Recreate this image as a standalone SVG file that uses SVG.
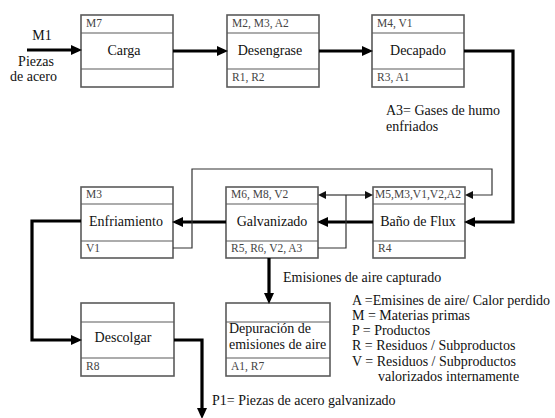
<svg xmlns="http://www.w3.org/2000/svg" width="555" height="418" viewBox="0 0 555 418">
<defs>
<marker id="ah" markerUnits="userSpaceOnUse" markerWidth="11" markerHeight="10" refX="7" refY="5" orient="auto">
<path d="M0,0 L11,5 L0,10 z" fill="#000"/>
</marker>
<marker id="at" markerUnits="userSpaceOnUse" markerWidth="8" markerHeight="8" refX="6" refY="4" orient="auto">
<path d="M0,0 L8,4 L0,8 z" fill="#111"/>
</marker>
</defs>
<style>
.box{fill:#fff;stroke:#5a5a5a;stroke-width:1.6}
.div{stroke:#5a5a5a;stroke-width:1.2}
.lbl{font-family:"Liberation Serif",serif;font-size:14px;fill:#111;text-anchor:middle}
.sm{font-family:"Liberation Serif",serif;font-size:11.5px;fill:#444}
.txt{font-family:"Liberation Serif",serif;font-size:14px;fill:#111}
.thick{fill:none;stroke:#000;stroke-width:3.2}
.thin{fill:none;stroke:#333;stroke-width:1.2}
</style>

<g id="carga">
<rect class="box" x="81" y="15" width="92" height="72"/>
<line class="div" x1="81" y1="33" x2="173" y2="33"/>
<line class="div" x1="81" y1="69" x2="173" y2="69"/>
<text class="sm" x="86" y="27">M7</text>
<text class="lbl" x="124" y="55">Carga</text>
</g>

<g id="desengrase">
<rect class="box" x="227" y="15" width="92" height="72"/>
<line class="div" x1="227" y1="33" x2="319" y2="33"/>
<line class="div" x1="227" y1="69" x2="319" y2="69"/>
<text class="sm" x="232" y="27">M2, M3, A2</text>
<text class="lbl" x="270" y="55">Desengrase</text>
<text class="sm" x="232" y="81">R1, R2</text>
</g>

<g id="decapado">
<rect class="box" x="372" y="15" width="92" height="72"/>
<line class="div" x1="372" y1="33" x2="464" y2="33"/>
<line class="div" x1="372" y1="69" x2="464" y2="69"/>
<text class="sm" x="377" y="27">M4, V1</text>
<text class="lbl" x="418" y="55">Decapado</text>
<text class="sm" x="377" y="81">R3, A1</text>
</g>

<g id="enfriamiento">
<rect class="box" x="81" y="187" width="92" height="71"/>
<line class="div" x1="81" y1="204" x2="173" y2="204"/>
<line class="div" x1="81" y1="241" x2="173" y2="241"/>
<text class="sm" x="86" y="198">M3</text>
<text class="lbl" x="126" y="226">Enfriamiento</text>
<text class="sm" x="86" y="252">V1</text>
</g>

<g id="galvanizado">
<rect class="box" x="226" y="187" width="92" height="71"/>
<line class="div" x1="226" y1="204" x2="318" y2="204"/>
<line class="div" x1="226" y1="241" x2="318" y2="241"/>
<text class="sm" x="231" y="198">M6, M8, V2</text>
<text class="lbl" x="272" y="226">Galvanizado</text>
<text class="sm" x="231" y="252">R5, R6, V2, A3</text>
</g>

<g id="bano">
<rect class="box" x="373" y="187" width="92" height="71"/>
<line class="div" x1="373" y1="204" x2="465" y2="204"/>
<line class="div" x1="373" y1="241" x2="465" y2="241"/>
<text class="sm" x="375" y="198" textLength="86" lengthAdjust="spacingAndGlyphs">M5,M3,V1,V2,A2</text>
<text class="lbl" x="418" y="226">Baño de Flux</text>
<text class="sm" x="378" y="252">R4</text>
</g>

<g id="descolgar">
<rect class="box" x="81" y="303" width="93" height="73"/>
<line class="div" x1="81" y1="322" x2="174" y2="322"/>
<line class="div" x1="81" y1="358" x2="174" y2="358"/>
<text class="lbl" x="123" y="342">Descolgar</text>
<text class="sm" x="86" y="370">R8</text>
</g>

<g id="depuracion">
<rect class="box" x="226" y="303" width="104" height="73"/>
<line class="div" x1="226" y1="322" x2="330" y2="322"/>
<line class="div" x1="226" y1="358" x2="330" y2="358"/>
<text class="txt" x="229" y="333">Depuración de</text>
<text class="txt" x="229" y="349">emisiones de aire</text>
<text class="sm" x="231" y="370">A1, R7</text>
</g>

<g id="connectors">
<path class="thick" d="M27,50 H78" marker-end="url(#ah)"/>
<path class="thick" d="M173,51 H224" marker-end="url(#ah)"/>
<path class="thick" d="M319,51 H369" marker-end="url(#ah)"/>
<path class="thick" d="M464,51 H513 V222 H468" marker-end="url(#ah)"/>
<path class="thick" d="M373,222 H321" marker-end="url(#ah)"/>
<path class="thick" d="M226,222 H176" marker-end="url(#ah)"/>
<path class="thick" d="M81,221 H32 V340 H78" marker-end="url(#ah)"/>
<path class="thick" d="M269,258 V300" marker-end="url(#ah)"/>
<path class="thick" d="M174,340 H202 V415" marker-end="url(#ah)"/>
<path class="thin" d="M173,248 H192 V169 H492 V195 H467" marker-end="url(#at)"/>
<path class="thin" d="M318,248 H346 V195"/>
<path class="thin" d="M346,195 H320" marker-end="url(#at)"/>
<path class="thin" d="M346,195 H371" marker-end="url(#at)"/>
</g>

<g id="texts">
<text class="lbl" x="42" y="40">M1</text>
<text class="lbl" x="36" y="66">Piezas</text>
<text class="txt" x="57" y="81" text-anchor="end">de acero</text>
<text class="txt" x="386" y="115">A3= Gases de humo</text>
<text class="txt" x="386" y="131">enfriados</text>
<text class="txt" x="283" y="282">Emisiones de aire capturado</text>
<text class="txt" x="352" y="305">A =Emisines de aire/ Calor perdido</text>
<text class="txt" x="352" y="320">M = Materias primas</text>
<text class="txt" x="352" y="335">P = Productos</text>
<text class="txt" x="352" y="350">R = Residuos / Subproductos</text>
<text class="txt" x="352" y="366">V = Residuos / Subproductos</text>
<text class="txt" x="378" y="381">valorizados internamente</text>
<text class="txt" x="212" y="405">P1= Piezas de acero galvanizado</text>
</g>
</svg>
